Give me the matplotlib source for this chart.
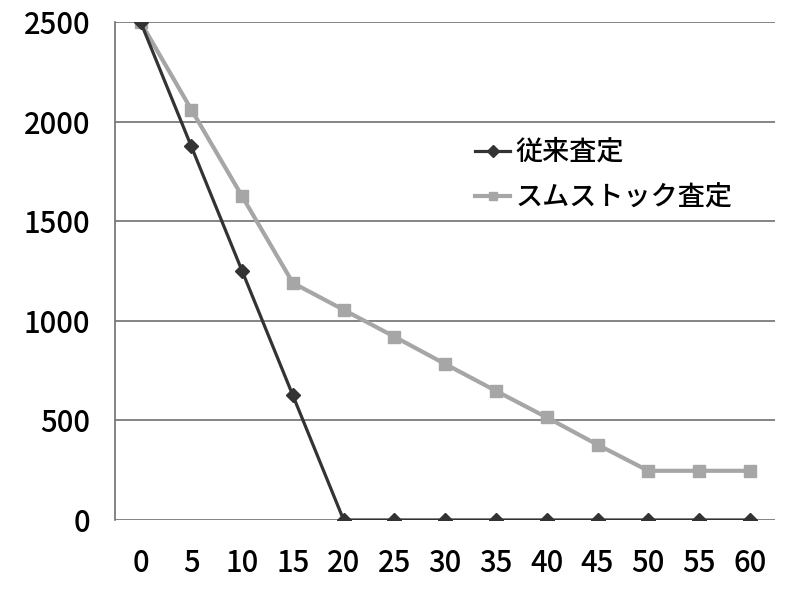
import numpy as np
from matplotlib import pyplot as plt

plt.rcParams['font.family'] = ['Noto Sans CJK JP', 'DejaVu Sans']

# categories (x axis)
minutes = ['0', '5', '10', '15', '20', '25', '30', '35', '40', '45', '50', '55', '60']
# series values
conventional = [2500, 1875, 1250, 625, 0, 0, 0, 0, 0, 0, 0, 0, 0]
sumstock = [2500, 2060, 1625, 1190, 1055, 920, 783, 648, 515, 378, 247, 247, 247]

names = ['従来査定', 'スムストック査定']
dark = '#333333'
light = '#a6a6a6'

fig = plt.figure(figsize=(8, 5.94), dpi=100)
ax = fig.add_axes([0.144, 0.1246, 0.825, 0.8384])

x = np.arange(len(minutes))
ax.plot(x, conventional, color=dark, lw=2.3, marker='D', ms=7, label=names[0], zorder=4)
ax.plot(x, sumstock, color=light, lw=3.0, marker='s', ms=9, label=names[1], zorder=3)

ax.set_xlim(-0.5, len(minutes) - 0.5)
ax.set_ylim(0, 2500)
ax.set_yticks(np.arange(0, 2501, 500))
ax.set_xticks(x)
ax.set_xticklabels(minutes)
ax.yaxis.grid(True, color='#707070', lw=1.2)
ax.set_axisbelow(True)

for s in ['top', 'right', 'bottom']:
    ax.spines[s].set_visible(False)
ax.spines['left'].set_color('#707070')
ax.spines['left'].set_linewidth(1.2)
ax.tick_params(length=0, labelsize=21)
ax.tick_params(axis='y', pad=18)
ax.tick_params(axis='x', pad=20)
for lbl in ax.get_xticklabels() + ax.get_yticklabels():
    lbl.set_fontweight('medium')

leg = ax.legend(loc='upper left', bbox_to_anchor=(0.545, 0.765), frameon=False,
                prop={'size': 19.5, 'weight': 'medium'}, handlelength=1.3,
                handletextpad=0.2, labelspacing=0.7, borderaxespad=0, borderpad=0)
for h in leg.legend_handles:
    h.set_markersize(6)

plt.savefig('out.png')
